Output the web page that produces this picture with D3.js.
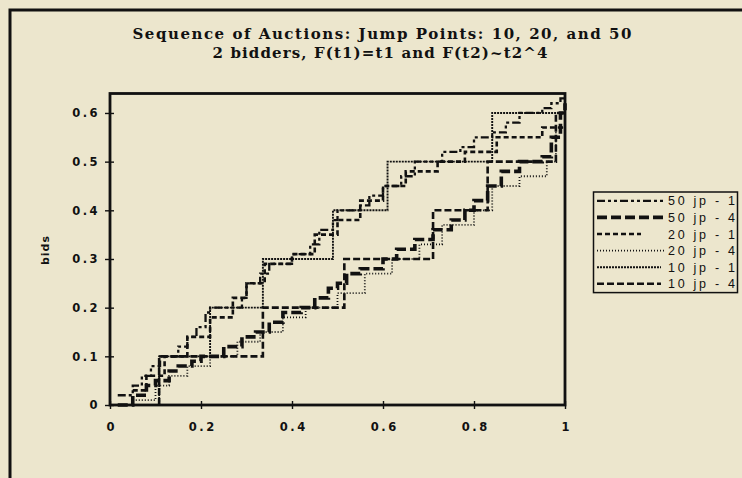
<!DOCTYPE html>
<html>
<head>
<meta charset="utf-8">
<script src="https://cdn.jsdelivr.net/npm/d3@7"></script>
<style>
  body { margin: 0; background: #ece6cd; }
  svg { display: block; }
</style>
</head>
<body>
<div id="chart"></div>
<script>
// Data: step points, bid = y from x until the next x
var seriesNames = ['50 jp - 1', '50 jp - 4', '20 jp - 1', '20 jp - 4', '10 jp - 1', '10 jp - 4'];

var jp50_1_x = [0.017, 0.05, 0.07, 0.09, 0.11, 0.15, 0.17, 0.19, 0.21, 0.22, 0.29, 0.3, 0.33, 0.35, 0.4, 0.44, 0.46, 0.49, 0.5, 0.55, 0.57, 0.6, 0.64, 0.67, 0.73, 0.77, 0.8, 0.84, 0.87, 0.9, 0.95, 0.97, 0.99, 1];
var jp50_1_y = [0.02, 0.04, 0.06, 0.08, 0.1, 0.12, 0.14, 0.16, 0.19, 0.2, 0.22, 0.25, 0.27, 0.29, 0.31, 0.33, 0.36, 0.38, 0.4, 0.41, 0.43, 0.45, 0.47, 0.5, 0.52, 0.53, 0.55, 0.56, 0.58, 0.6, 0.61, 0.62, 0.63, 0.63];

var jp50_4_x = [0.017, 0.05, 0.08, 0.1, 0.13, 0.15, 0.18, 0.2, 0.25, 0.29, 0.32, 0.35, 0.38, 0.42, 0.45, 0.48, 0.5, 0.52, 0.55, 0.6, 0.63, 0.67, 0.71, 0.75, 0.78, 0.8, 0.83, 0.86, 0.9, 0.95, 0.97, 0.99, 1];
var jp50_4_y = [0.0, 0.02, 0.04, 0.05, 0.07, 0.08, 0.09, 0.1, 0.12, 0.14, 0.15, 0.17, 0.19, 0.2, 0.22, 0.24, 0.25, 0.27, 0.28, 0.3, 0.32, 0.34, 0.36, 0.38, 0.4, 0.42, 0.45, 0.48, 0.5, 0.51, 0.55, 0.6, 0.62];

var jp20_1_x = [0.05, 0.08, 0.12, 0.17, 0.22, 0.27, 0.3, 0.34, 0.4, 0.45, 0.5, 0.55, 0.6, 0.65, 0.72, 0.78, 0.85, 0.95, 1];
var jp20_1_y = [0.03, 0.06, 0.1, 0.14, 0.18, 0.22, 0.25, 0.29, 0.31, 0.35, 0.38, 0.42, 0.45, 0.48, 0.5, 0.52, 0.55, 0.57, 0.57];

var jp20_4_x = [0.05, 0.1, 0.13, 0.17, 0.22, 0.28, 0.33, 0.38, 0.43, 0.5, 0.56, 0.62, 0.68, 0.73, 0.8, 0.84, 0.9, 0.96, 0.98, 1];
var jp20_4_y = [0.01, 0.04, 0.06, 0.08, 0.1, 0.13, 0.15, 0.18, 0.2, 0.23, 0.27, 0.3, 0.33, 0.37, 0.4, 0.45, 0.47, 0.5, 0.57, 0.57];

var jp10_1_x = [0.108, 0.108, 0.22, 0.336, 0.49, 0.61, 0.84, 1];
var jp10_1_y = [0.0, 0.1, 0.2, 0.3, 0.4, 0.5, 0.6, 0.6];

var jp10_4_x = [0.108, 0.108, 0.336, 0.515, 0.71, 0.83, 0.98, 1];
var jp10_4_y = [0.0, 0.1, 0.2, 0.3, 0.4, 0.5, 0.6, 0.6];

var xTicks = [0, 0.2, 0.4, 0.6, 0.8, 1];
var xTickLabels = ['0', '0.2', '0.4', '0.6', '0.8', '1'];
var yTicks = [0, 0.1, 0.2, 0.3, 0.4, 0.5, 0.6];
var yTickLabels = ['0', '0.1', '0.2', '0.3', '0.4', '0.5', '0.6'];

// Line styles, same order as seriesNames
var strokeWidths = [2.3, 3.6, 2.6, 1.8, 1.9, 2.6];
var dashes = ['8,3,3,3,3,3', '10,4', '5,3', '1,2', '2,1', '7,3'];

var seriesX = [jp50_1_x, jp50_4_x, jp20_1_x, jp20_4_x, jp10_1_x, jp10_4_x];
var seriesY = [jp50_1_y, jp50_4_y, jp20_1_y, jp20_4_y, jp10_1_y, jp10_4_y];

function renderChart() {
  var width = 742;
  var height = 478;
  var ink = '#111';

  var xScale = d3.scaleLinear().domain([0, 1]).range([110, 565]);
  var yScale = d3.scaleLinear().domain([0, 0.64]).range([405, 93.5]);

  var chart = d3.select('#chart')
                .append('svg')
                .attr('width', width)
                .attr('height', height);

  chart.append('rect')
       .attr('width', width)
       .attr('height', height)
       .attr('fill', '#ece6cd');

  // Outer frame (only left and top edges are in view)
  chart.append('path')
       .attr('d', 'M10,' + height + 'V10H' + width)
       .attr('fill', 'none')
       .attr('stroke', ink)
       .attr('stroke-width', 3);

  // Title
  var titleFont = 'bold 15px "DejaVu Serif"';
  chart.append('text')
       .attr('x', 382).attr('y', 39)
       .attr('text-anchor', 'middle')
       .attr('textLength', 499).attr('lengthAdjust', 'spacing')
       .style('font', titleFont)
       .attr('fill', ink)
       .text('Sequence of Auctions: Jump Points: 10, 20, and 50');
  chart.append('text')
       .attr('x', 380).attr('y', 57.5)
       .attr('text-anchor', 'middle')
       .attr('textLength', 335).attr('lengthAdjust', 'spacing')
       .style('font', titleFont)
       .attr('fill', ink)
       .text('2 bidders, F(t1)=t1 and F(t2)~t2^4');

  // Series
  var line = d3.line()
               .x(function(d) { return xScale(d[0]); })
               .y(function(d) { return yScale(d[1]); })
               .curve(d3.curveStepAfter);

  chart.selectAll('path.series')
       .data(seriesNames)
       .enter()
       .append('path')
       .attr('class', 'series')
       .attr('d', function(d, i) {
         return line(seriesX[i].map(function(x, j) { return [x, seriesY[i][j]]; }));
       })
       .attr('fill', 'none')
       .attr('stroke', ink)
       .attr('stroke-width', function(d, i) { return strokeWidths[i]; })
       .attr('stroke-dasharray', function(d, i) { return dashes[i]; });

  // Plot frame
  chart.append('rect')
       .attr('x', xScale(0)).attr('y', yScale(0.64))
       .attr('width', xScale(1) - xScale(0))
       .attr('height', yScale(0) - yScale(0.64))
       .attr('fill', 'none')
       .attr('stroke', ink)
       .attr('stroke-width', 2.8);

  var tickFont = 'bold 11.5px "DejaVu Sans"';

  // Y-Axis
  var yAxis = d3.axisLeft(yScale)
                .tickValues(yTicks)
                .tickSize(5)
                .tickPadding(5)
                .tickFormat(function(d, i) { return yTickLabels[i]; });
  var gy = chart.append('g').attr('transform', 'translate(' + xScale(0) + ',0)').call(yAxis);
  gy.select('.domain').remove();
  gy.selectAll('line').attr('x1', 4).attr('stroke', ink).attr('stroke-width', 1.4);
  gy.selectAll('text').style('font', tickFont).style('letter-spacing', '2.5px').attr('fill', ink);

  // X-Axis
  var xAxis = d3.axisBottom(xScale)
                .tickValues(xTicks)
                .tickSize(4)
                .tickPadding(14)
                .tickFormat(function(d, i) { return xTickLabels[i]; });
  var gx = chart.append('g').attr('transform', 'translate(0,' + yScale(0) + ')').call(xAxis);
  gx.select('.domain').remove();
  gx.selectAll('line').attr('y1', -4).attr('stroke', ink).attr('stroke-width', 1.4);
  gx.selectAll('text').style('font', tickFont).style('letter-spacing', '2.5px')
    .attr('dx', '1.25px').attr('fill', ink);

  // Axis title
  chart.append('text')
       .attr('transform', 'translate(49,250) rotate(-90)')
       .attr('text-anchor', 'middle')
       .style('font', 'bold 11px "DejaVu Sans"')
       .style('letter-spacing', '1px')
       .attr('fill', ink)
       .text('bids');

  // Legend
  var legendTop = 192;
  var rowGap = 16.6;
  var sampleEnd = [666, 666, 641, 664, 661, 661];
  chart.append('rect')
       .attr('x', 593.5).attr('y', legendTop)
       .attr('width', 144).attr('height', 6 * rowGap + 1)
       .attr('fill', 'none')
       .attr('stroke', ink)
       .attr('stroke-width', 1.5);

  var rows = chart.selectAll('g.legend-row')
                  .data(seriesNames)
                  .enter()
                  .append('g')
                  .attr('class', 'legend-row')
                  .attr('transform', function(d, i) {
                    return 'translate(0,' + (legendTop + 8.8 + i * rowGap) + ')';
                  });
  rows.append('line')
      .attr('x1', 597)
      .attr('x2', function(d, i) { return sampleEnd[i]; })
      .attr('stroke', ink)
      .attr('stroke-width', function(d, i) { return strokeWidths[i]; })
      .attr('stroke-dasharray', function(d, i) { return dashes[i]; });
  rows.append('text')
      .attr('x', 735).attr('y', 4.5)
      .attr('text-anchor', 'end')
      .attr('textLength', 67).attr('lengthAdjust', 'spacing')
      .style('font', '12.5px "Liberation Sans"')
      .attr('fill', ink)
      .text(function(d) { return d; });
}

renderChart();
</script>
</body>
</html>
